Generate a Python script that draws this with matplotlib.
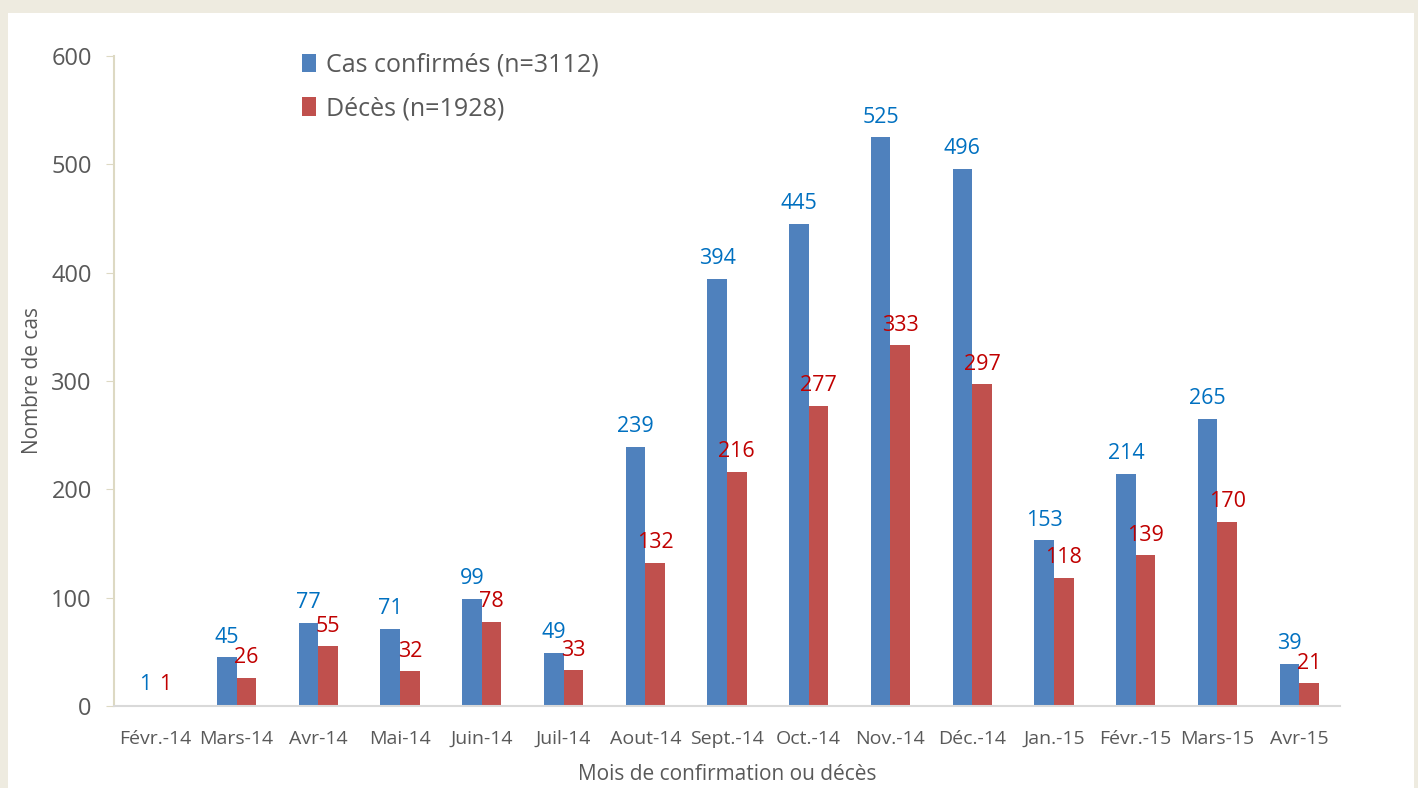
import matplotlib.pyplot as plt
import numpy as np

mois = ['Févr.-14', 'Mars-14', 'Avr-14', 'Mai-14', 'Juin-14', 'Juil-14', 'Aout-14',
        'Sept.-14', 'Oct.-14', 'Nov.-14', 'Déc.-14', 'Jan.-15', 'Févr.-15', 'Mars-15', 'Avr-15']
cas = [1, 45, 77, 71, 99, 49, 239, 394, 445, 525, 496, 153, 214, 265, 39]
deces = [1, 26, 55, 32, 78, 33, 132, 216, 277, 333, 297, 118, 139, 170, 21]

plt.rcParams['font.family'] = ['Open Sans', 'DejaVu Sans']

fig = plt.figure(figsize=(14.18, 7.88), dpi=100, facecolor='#EEEBE0')
# white panel
fig.patches.append(plt.Rectangle((8/1418, 0), 1406/1418, 1 - 13/788,
                                 transform=fig.transFigure, facecolor='white',
                                 edgecolor='none', zorder=-1))
ax = fig.add_axes([114/1418, 82/788, (1340-114)/1418, (706-56)/788])
ax.set_facecolor('white')

x = np.arange(len(mois))
w = 0.24
ax.bar(x - w/2, cas, w, color='#4F81BD', label='Cas confirmés (n=3112)')
ax.bar(x + w/2, deces, w, color='#C0504D', label='Décès (n=1928)')

for xi, v in zip(x, cas):
    ax.annotate(str(v), (xi - w/2, v), xytext=(0, 7), textcoords='offset points',
                ha='center', va='bottom', color='#0070C0', fontsize=15.5)
for xi, v in zip(x, deces):
    ax.annotate(str(v), (xi + w/2, v), xytext=(0, 7), textcoords='offset points',
                ha='center', va='bottom', color='#C00000', fontsize=15.5)

ax.set_xlim(-0.5, len(mois) - 0.5)
ax.set_ylim(0, 600)
ax.set_yticks(range(0, 601, 100))
ax.set_xticks(x)
ax.set_xticklabels(mois, fontsize=14, color='#595959')
ax.tick_params(axis='y', labelsize=17, colors='#595959', length=6, color='#DDD9C3', pad=10)
ax.tick_params(axis='x', length=0, pad=17)
for s in ['top', 'right']:
    ax.spines[s].set_visible(False)
ax.spines['left'].set_color('#DDD9C3')
ax.spines['left'].set_linewidth(1.5)
ax.spines['bottom'].set_color('#D9D9D9')
ax.spines['bottom'].set_linewidth(1.5)

ax.set_ylabel('Nombre de cas', fontsize=15, color='#595959', labelpad=6)
ax.set_xlabel('Mois de confirmation ou décès', fontsize=15, color='#595959', labelpad=12)

ax.legend(loc='upper left', bbox_to_anchor=(0.135, 1.04), frameon=False,
          fontsize=18, labelcolor='#595959', handlelength=0.55, handleheight=0.75,
          handletextpad=0.4, labelspacing=0.75)

fig.savefig('out.png', dpi=100, facecolor=fig.get_facecolor())
